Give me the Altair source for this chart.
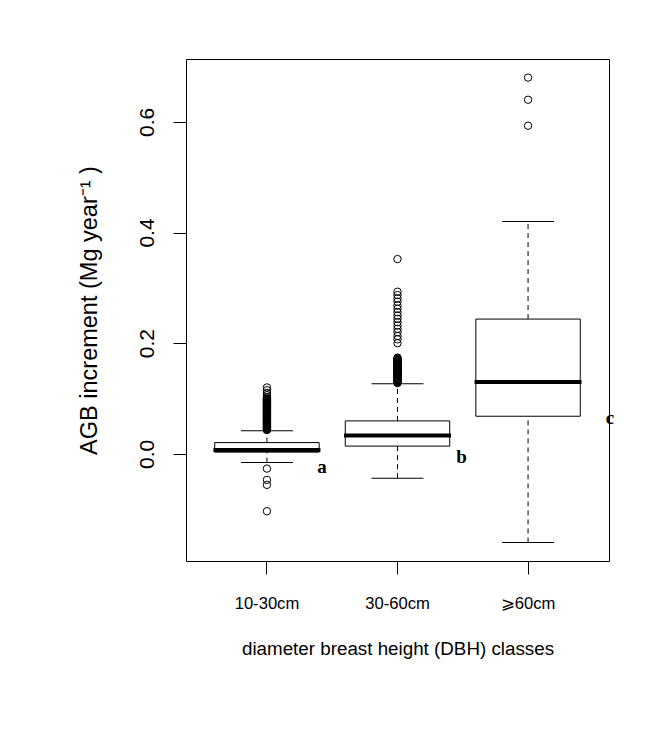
import altair as alt
import pandas as pd

# ---- data ----
groups = ["10-30cm", "30-60cm", "⩾60cm"]
lower_whisker = [-0.0157, -0.044, -0.160]
q1 = [0.0031, 0.014, 0.068]
median = [0.0072, 0.033, 0.130]
q3 = [0.0204, 0.0596, 0.2436]
upper_whisker = [0.0416, 0.1265, 0.420]

outliers_a = [0.120, 0.115, 0.110, 0.106, 0.102, 0.100,
              0.099, 0.098, 0.097, 0.096, 0.095, 0.094, 0.093, 0.092, 0.091,
              0.090, 0.089, 0.088, 0.087, 0.086, 0.085, 0.084, 0.083, 0.082,
              0.081, 0.080, 0.079, 0.078, 0.077, 0.076, 0.075, 0.074, 0.073,
              0.072, 0.071, 0.070, 0.069, 0.068, 0.067, 0.066, 0.065, 0.064,
              0.063, 0.062, 0.061, 0.060, 0.059, 0.058, 0.057, 0.056, 0.055,
              0.054, 0.053, 0.052, 0.051, 0.050, 0.049, 0.048, 0.047, 0.046,
              0.045, 0.044, 0.043,
              -0.0266, -0.047, -0.056, -0.1036]
outliers_b = [0.352,
              0.293, 0.287, 0.281, 0.275, 0.268, 0.262, 0.256, 0.250, 0.244,
              0.238, 0.232, 0.226, 0.220, 0.213, 0.207, 0.200,
              0.174, 0.173, 0.172, 0.171, 0.170, 0.169, 0.168, 0.167, 0.166,
              0.165, 0.164, 0.163, 0.162, 0.161, 0.160, 0.159, 0.158, 0.157,
              0.156, 0.155, 0.154, 0.153, 0.152, 0.151, 0.150, 0.149, 0.148,
              0.147, 0.146, 0.145, 0.144, 0.143, 0.142, 0.141, 0.140, 0.139,
              0.138, 0.137, 0.136, 0.135, 0.134, 0.133, 0.132, 0.131, 0.130,
              0.129, 0.128]
outliers_c = [0.680, 0.640, 0.593]

letters = ["a", "b", "c"]
letter_y = [-0.0235, -0.005, 0.0656]

# ---- tables ----
stats = pd.DataFrame({
    "group": groups, "lo": lower_whisker, "q1": q1, "med": median,
    "q3": q3, "hi": upper_whisker,
})
out = pd.DataFrame({
    "group": [groups[0]] * len(outliers_a) + [groups[1]] * len(outliers_b)
    + [groups[2]] * len(outliers_c),
    "value": outliers_a + outliers_b + outliers_c,
})
lab = pd.DataFrame({"group": groups, "letter": letters, "y": letter_y})

FONT = "Liberation Sans"

xenc = alt.X("group:N", sort=groups,
             scale=alt.Scale(paddingInner=0.2, paddingOuter=0.22),
             axis=alt.Axis(title="diameter breast height (DBH) classes",
                           labelAngle=0, tickSize=13, labelPadding=21,
                           labelFont=FONT, labelFontSize=16.6,
                           titleFont=FONT, titleFontSize=18.8,
                           domain=False, titlePadding=28))
yscale = alt.Scale(domain=[-0.1936, 0.7136], nice=False, zero=False)
yaxis = alt.Axis(title="AGB increment (Mg year⁻¹ )", values=[0.0, 0.2, 0.4, 0.6],
                 format=".1f", labelAngle=270, tickSize=13, labelPadding=16,
                 labelFont=FONT, labelFontSize=21,
                 titleFont=FONT, titleFontSize=23.5,
                 domain=False, grid=False, titlePadding=35)

base = alt.Chart(stats)

whisk_up = base.mark_rule(color="black", strokeDash=[5, 4], strokeWidth=1).encode(
    x=xenc, y=alt.Y("q3:Q", scale=yscale, axis=yaxis), y2="hi:Q")
whisk_lo = base.mark_rule(color="black", strokeDash=[5, 4], strokeWidth=1).encode(
    x=xenc, y=alt.Y("lo:Q", scale=yscale), y2="q1:Q")
cap_hi = base.mark_tick(color="black", size=52, thickness=1, opacity=1).encode(
    x=xenc, y=alt.Y("hi:Q", scale=yscale))
cap_lo = base.mark_tick(color="black", size=52, thickness=1, opacity=1).encode(
    x=xenc, y=alt.Y("lo:Q", scale=yscale))
box = base.mark_bar(fill="white", stroke="black", strokeWidth=1, opacity=1).encode(
    x=xenc, y=alt.Y("q1:Q", scale=yscale), y2="q3:Q")
med = base.mark_tick(color="black", size=107, thickness=4, opacity=1).encode(
    x=xenc, y=alt.Y("med:Q", scale=yscale))

pts = alt.Chart(out).mark_point(shape="circle", filled=False, color="black",
                                size=55, strokeWidth=1, opacity=1).encode(
    x=xenc, y=alt.Y("value:Q", scale=yscale))

letter_dx = [55, 64, 82]
texts = []
for i, g in enumerate(groups):
    texts.append(
        alt.Chart(lab).transform_filter(alt.datum.group == g)
        .mark_text(font="Liberation Serif", fontWeight="bold", fontSize=19,
                   color="black", dx=letter_dx[i])
        .encode(x=xenc, y=alt.Y("y:Q", scale=yscale), text="letter:N")
    )

chart = alt.layer(whisk_up, whisk_lo, cap_hi, cap_lo, box, med, pts, *texts).properties(
    width=423, height=502,
    background="white",
    autosize=alt.AutoSizeParams(type="none"),
    padding={"left": 178, "top": 51, "right": 46, "bottom": 171},
).configure_view(stroke="black", strokeWidth=1).configure_axis(
    labelColor="black", titleColor="black", tickColor="black",
    titleFontWeight="normal", grid=False,
)

chart.save("out.html", embed_options={"renderer": "svg", "actions": False})
